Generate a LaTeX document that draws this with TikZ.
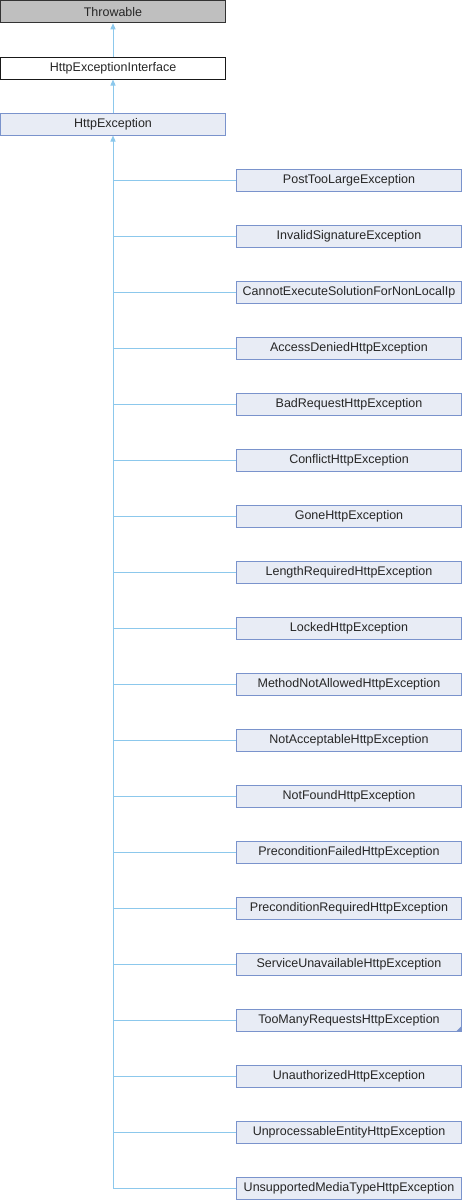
\documentclass[tikz,border=0pt]{standalone}
\usepackage{fontspec}
\setmainfont{Liberation Sans}
\usetikzlibrary{arrows.meta}
\definecolor{edgec}{HTML}{8CC8EC}
\definecolor{boxfill}{HTML}{E8ECF5}
\definecolor{boxdraw}{HTML}{7A93CC}
\definecolor{grayfill}{HTML}{BFBFBF}
\tikzset{
  cls/.style={draw=boxdraw, fill=boxfill, line width=1pt, minimum height=22pt, inner sep=0pt, font=\fontsize{12.5pt}{14pt}\selectfont, text=black!85},
  topcls/.style={cls, minimum width=225pt},
  child/.style={cls, minimum width=225pt},
  edge/.style={draw=edgec, line width=1pt},
  inh/.style={edge, -{Triangle[width=5pt,length=6pt]}},
}
\begin{document}
\begin{tikzpicture}[x=1pt,y=-1pt]
\useasboundingbox (0,0) rectangle (462,1200);
\node[topcls, draw=black!80, fill=grayfill] (thr) at (113,11.75) {Throwable};
\node[topcls, draw=black!90, fill=white] (hei) at (113,68) {HttpExceptionInterface};
\node[topcls] (hx) at (113,124) {HttpException};
\draw[inh] (hei.north) -- (thr.south);
\draw[inh] (hx.north) -- (hei.south);
\foreach \name [count=\i from 0] in {PostTooLargeException,InvalidSignatureException,CannotExecuteSolutionForNonLocalIp,AccessDeniedHttpException,BadRequestHttpException,ConflictHttpException,GoneHttpException,LengthRequiredHttpException,LockedHttpException,MethodNotAllowedHttpException,NotAcceptableHttpException,NotFoundHttpException,PreconditionFailedHttpException,PreconditionRequiredHttpException,ServiceUnavailableHttpException,TooManyRequestsHttpException,UnauthorizedHttpException,UnprocessableEntityHttpException,UnsupportedMediaTypeHttpException}{
  \node[child] (c\i) at (349,180+56*\i) {\name};
  \draw[edge] (c\i.west) -- (c\i.west -| hx.south);
}
\coordinate (trunkend) at (c18.west -| hx.south);
\draw[inh] (trunkend) -- (hx.south);
\fill[boxdraw] (c15.south east) -- ++(-6,0) -- ++(6,-6) -- cycle;
\end{tikzpicture}
\end{document}
